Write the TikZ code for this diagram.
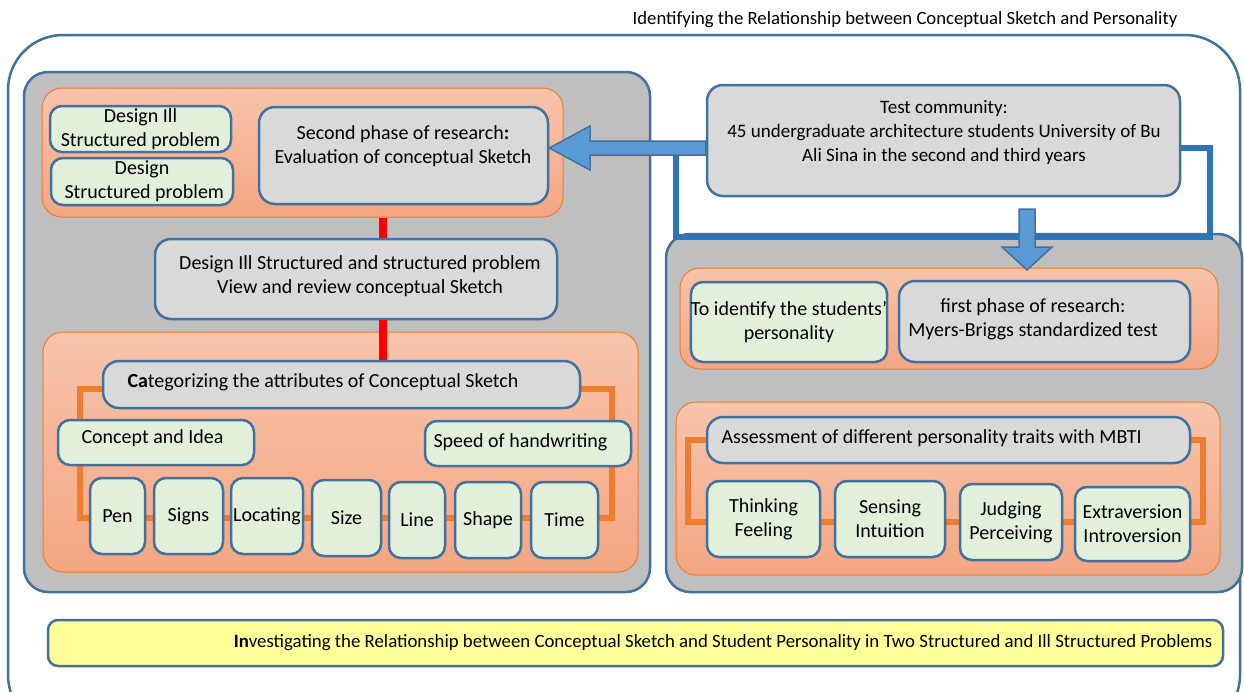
\documentclass[tikz,border=0pt]{standalone}
\usepackage{fontspec}
\setmainfont{Carlito}
\definecolor{bord}{RGB}{65,113,156}
\definecolor{panelgray}{RGB}{191,191,191}
\definecolor{boxgray}{RGB}{217,217,217}
\definecolor{boxgreen}{RGB}{226,239,218}
\definecolor{orgtop}{RGB}{248,196,172}
\definecolor{orgbot}{RGB}{244,166,130}
\definecolor{orgline}{RGB}{237,125,49}
\definecolor{blueline}{RGB}{46,117,182}
\definecolor{arrowfill}{RGB}{91,155,213}
\definecolor{yel}{RGB}{255,255,153}
\newcommand\bx[7]{\node[#1, minimum width={(#5-#3)*1pt}, minimum height={(#6-#4)*1pt}, inner sep=0pt, align=center] (#2) at ({(#3+#5)/2},{(#4+#6)/2}) {#7};}
\tikzset{
  every node/.style={font=\fontsize{20}{24}\selectfont, text=black},
  panel/.style={draw=bord, line width=2.5pt, fill=panelgray, rounded corners=24pt},
  orangepanel/.style={draw=orgline, line width=1pt, top color=orgtop, bottom color=orgbot, rounded corners=20pt},
  graybox/.style={draw=bord, line width=2.5pt, fill=boxgray, rounded corners=16pt},
  greenbox/.style={draw=bord, line width=2.5pt, fill=boxgreen, rounded corners=12pt},
  yelbox/.style={draw=bord, line width=2.5pt, fill=yel, rounded corners=10pt},
  bracket/.style={draw=orgline, line width=6pt},
  redlink/.style={draw=red, line width=8pt},
  bluelink/.style={draw=blueline, line width=6pt},
  blockarrow/.style={draw=bord, line width=1.5pt, fill=arrowfill}
}
\begin{document}
\begin{tikzpicture}[x=1pt,y=-1pt]
\useasboundingbox (0,0) rectangle (1244,691);
\begin{scope}
\clip (0,0) rectangle (1244,691);
% outer frame
\draw[draw=bord, line width=2.5pt, rounded corners=55pt] (8,35) rectangle (1240,730);
\node[font=\fontsize{18.7}{22}\selectfont] (title) at (905,20) {Identifying the Relationship between Conceptual Sketch and Personality};

% gray panels
\bx{panel}{leftpanel}{24}{72}{650}{592}{}
\bx{panel}{rightpanel}{666}{234}{1242}{592}{}

% blue frame connector
\coordinate (bl1) at (676,148);
\coordinate (bl2) at (1210,237);
\draw[bluelink] (bl1) rectangle (bl2);

% left orange panels
\bx{orangepanel}{topleftpanel}{42}{88}{563}{217}{}
\bx{orangepanel}{botleftpanel}{43}{332}{638}{572}{}
% right orange panels
\bx{orangepanel}{toprightpanel}{680}{268}{1218}{369}{}
\bx{orangepanel}{botrightpanel}{676}{402}{1220}{575}{}

% top-left boxes
\bx{greenbox}{designill}{50}{106}{231}{152}{Design Ill\\Structured problem}
\bx{greenbox}{design}{51}{158}{233}{205}{Design\\\ Structured problem}
\bx{graybox}{second}{259}{107}{548}{204}{}
\node[align=center] (secondtxt) at (403,146) {Second phase of research\textbf{:}\\Evaluation of conceptual Sketch};

% middle box
\bx{graybox}{review}{155}{239}{557}{319}{}
\node[align=center] (reviewtxt) at (360,276) {Design Ill Structured and structured problem\\View and review conceptual Sketch};

% red links
\draw[redlink] (topleftpanel.south -| 383,0) -- (review.north -| 383,0);

% bottom-left bracket
\coordinate (lb1) at (80,389);
\coordinate (lb2) at (612,518);
\draw[bracket] (lb1) rectangle (lb2);

\bx{graybox}{categ}{103}{361}{580}{408}{}
\draw[redlink] (review.south -| 383,0) -- (categ.north -| 383,0);
\node[anchor=west] (categtxt) at (124,382) {\textbf{Ca}tegorizing the attributes of Conceptual Sketch};
\bx{greenbox}{concept}{58}{420}{254}{465}{}
\node[anchor=west] (concepttxt) at (78,438) {Concept and Idea};
\bx{greenbox}{speed}{425}{421}{631}{466}{}
\node[anchor=west] (speedtxt) at (430,442) {Speed of handwriting};

\bx{greenbox}{pen}{90}{478}{145}{554}{Pen}
\bx{greenbox}{signs}{154}{478}{223}{554}{Signs}
\bx{greenbox}{locating}{231}{478}{303}{554}{Locating}
\bx{greenbox}{size}{312}{480}{381}{556}{Size}
\bx{greenbox}{line}{389}{482}{445}{558}{Line}
\bx{greenbox}{shape}{455}{482}{521}{558}{Shape}
\bx{greenbox}{time}{531}{482}{598}{558}{Time}

% test community
\bx{graybox}{test}{707}{85}{1180}{196}{}
\node[align=center, font=\fontsize{19}{24}\selectfont] (testtxt) at (944,132) {Test community:\\45 undergraduate architecture students University of Bu\\Ali Sina in the second and third years};

% right boxes
\bx{greenbox}{identify}{692}{282}{886}{362}{To identify the students'\\personality}
\bx{graybox}{first}{899}{281}{1190}{362}{}
\node[align=center] (firsttxt) at (1033,319) {first phase of research:\\Myers-Briggs standardized test};

\coordinate (rb1) at (688,440);
\coordinate (rb2) at (1203,522);
\draw[bracket] (rb1) rectangle (rb2);
\bx{graybox}{assess}{707}{417}{1190}{463}{}
\node[anchor=west] (assesstxt) at (718,438) {Assessment of different personality traits with MBTI};
\bx{greenbox}{tf}{707}{481}{820}{557}{Thinking\\Feeling}
\bx{greenbox}{si}{835}{481}{945}{557}{Sensing\\Intuition}
\bx{greenbox}{jp}{960}{484}{1062}{560}{Judging\\Perceiving}
\bx{greenbox}{ei}{1075}{487}{1190}{561}{Extraversion\\Introversion}

% block arrows
\draw[blockarrow] (test.west |- 0,141) -- (590,141) -- (590,126) -- (second.east |- 0,148) -- (590,170) -- (590,155) -- (test.west |- 0,155) -- cycle;
\draw[blockarrow] (1019,209) -- (1019,247) -- (1002,247) -- (1027,270) -- (1052,247) -- (1035,247) -- (1035,209) -- cycle;

% bottom yellow box
\bx{yelbox}{bottom}{48}{620}{1223}{666}{}
\node[anchor=east, font=\fontsize{18.8}{23}\selectfont] (bottomtxt) at (1216,643) {\textbf{In}vestigating the Relationship between Conceptual Sketch and Student Personality in Two Structured and Ill Structured Problems};
\end{scope}
\end{tikzpicture}
\end{document}
